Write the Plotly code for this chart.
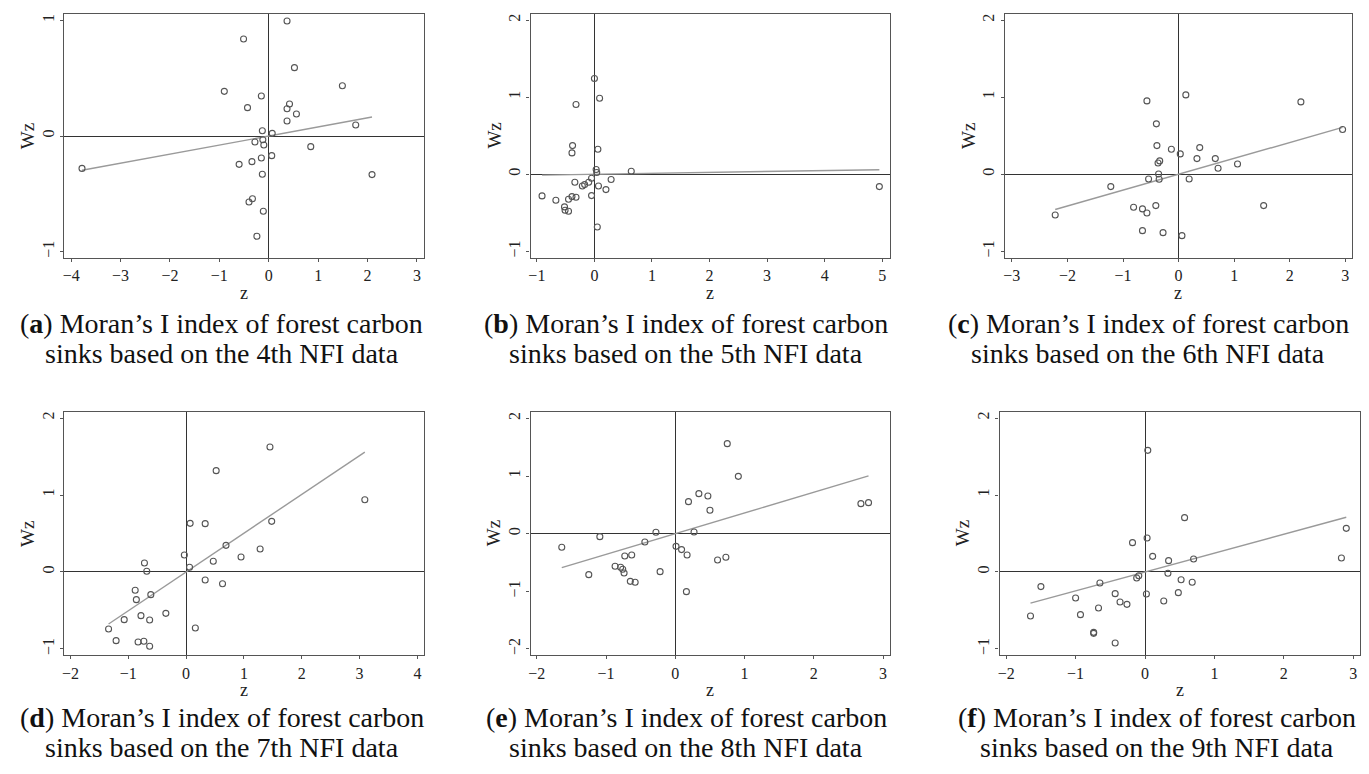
import plotly.graph_objects as go

# ---------------- data ----------------
z_a = [0.37, -0.51, 0.52, -0.90, 1.49, -0.15, -0.43, 0.42, 0.37, 0.56, 0.37, 1.76, -0.13, 0.07,
       -0.12, -0.28, -0.10, 0.85, 0.06, -0.15, -0.60, -0.34, -3.78, -0.13, 2.09, -0.33, -0.40, -0.11, -0.24]
wz_a = [0.994, 0.839, 0.591, 0.386, 0.435, 0.346, 0.245, 0.277, 0.236, 0.190, 0.130, 0.095, 0.046, 0.023,
        -0.032, -0.052, -0.078, -0.092, -0.170, -0.190, -0.245, -0.222, -0.280, -0.331, -0.334, -0.542, -0.571, -0.651, -0.867]

z_b = [0.00, 0.09, -0.32, -0.38, -0.39, 0.06, 0.03, 0.04, 0.64, 0.29, -0.05, -0.34, -0.10, -0.17,
       -0.21, 0.07, 0.20, -0.91, -0.05, -0.67, -0.39, -0.32, -0.45, -0.52, -0.51, -0.45, 0.05, 4.95]
wz_b = [1.242, 0.987, 0.905, 0.372, 0.277, 0.325, 0.061, 0.022, 0.039, -0.069, -0.052, -0.104, -0.104, -0.134,
        -0.152, -0.152, -0.199, -0.281, -0.277, -0.338, -0.290, -0.299, -0.325, -0.424, -0.468, -0.481, -0.684, -0.160]

z_c = [0.13, -0.57, 2.20, -0.40, 2.95, -0.39, -0.13, 0.38, 0.03, 0.33, 0.66, -0.34, -0.37, 1.06, 0.71,
       -0.36, -0.54, -0.35, 0.19, -1.22, -2.22, -0.81, -0.65, -0.57, -0.41, 1.53, -0.65, -0.28, 0.06]
wz_c = [1.030, 0.952, 0.939, 0.654, 0.580, 0.372, 0.325, 0.346, 0.264, 0.203, 0.203, 0.173, 0.147, 0.134, 0.078,
        0.004, -0.061, -0.065, -0.061, -0.160, -0.528, -0.429, -0.450, -0.502, -0.407, -0.407, -0.732, -0.758, -0.797]

z_d = [1.45, 0.52, 3.09, 1.48, 0.07, 0.33, 0.69, 1.28, -0.03, 0.95, 0.47, -0.72, 0.06, -0.68, 0.33,
       0.63, -0.88, -0.86, -0.61, -0.35, -0.78, -1.07, -0.63, 0.16, -1.34, -1.21, -0.83, -0.73, -0.63]
wz_d = [1.623, 1.316, 0.939, 0.658, 0.632, 0.628, 0.346, 0.299, 0.221, 0.195, 0.139, 0.117, 0.061, 0.009, -0.104,
        -0.152, -0.238, -0.359, -0.294, -0.537, -0.567, -0.619, -0.623, -0.727, -0.740, -0.892, -0.909, -0.900, -0.965]

z_e = [0.75, 0.91, 0.34, 0.47, 0.19, 2.68, 2.79, 0.50, -0.28, 0.27, -1.09, -0.44, -1.64, 0.01, 0.09,
       0.17, -0.63, -0.73, 0.73, 0.61, -0.87, -0.79, -0.76, -0.74, -0.22, -1.25, -0.65, -0.58, 0.16]
wz_e = [1.561, 0.994, 0.694, 0.653, 0.555, 0.520, 0.538, 0.405, 0.023, 0.029, -0.052, -0.145, -0.237, -0.220, -0.277,
        -0.370, -0.370, -0.387, -0.410, -0.457, -0.566, -0.584, -0.618, -0.682, -0.659, -0.711, -0.827, -0.844, -1.006]

z_f = [0.04, 0.57, 2.90, 0.03, -0.18, 0.11, 0.34, 0.70, 2.83, 0.33, -0.09, -0.12, 0.52, 0.68, -0.65,
       -1.50, 0.48, -0.43, 0.02, -1.00, 0.27, -0.36, -0.26, -0.67, -0.93, -1.65, -0.74, -0.74, -0.43]
wz_f = [1.580, 0.706, 0.567, 0.442, 0.381, 0.203, 0.147, 0.169, 0.182, -0.017, -0.048, -0.078, -0.100, -0.134, -0.143,
        -0.190, -0.268, -0.281, -0.286, -0.338, -0.377, -0.390, -0.420, -0.468, -0.554, -0.571, -0.784, -0.797, -0.922]

# fitted slopes (Moran's I)
slopes = [0.0785, 0.012, 0.206, 0.504, 0.359, 0.245]

panel_letters = ["a", "b", "c", "d", "e", "f"]
nfi_rounds = ["4th", "5th", "6th", "7th", "8th", "9th"]

x_ticks = [[-4, -3, -2, -1, 0, 1, 2, 3], [-1, 0, 1, 2, 3, 4, 5], [-3, -2, -1, 0, 1, 2, 3],
           [-2, -1, 0, 1, 2, 3, 4], [-2, -1, 0, 1, 2, 3], [-2, -1, 0, 1, 2, 3]]
y_ticks = [[-1, 0, 1], [-1, 0, 1, 2], [-1, 0, 1, 2], [-1, 0, 1, 2], [-2, -1, 0, 1, 2], [-1, 0, 1, 2]]

x_ranges = [[-4.14, 3.15], [-1.11, 5.13], [-3.126, 3.12], [-2.107, 4.12], [-2.091, 3.096], [-2.096, 3.098]]
y_ranges = [[-1.055, 1.055], [-1.087, 2.08], [-1.087, 2.08], [-1.082, 2.078], [-2.11, 2.11], [-1.082, 2.078]]

zs = [z_a, z_b, z_c, z_d, z_e, z_f]
wzs = [wz_a, wz_b, wz_c, wz_d, wz_e, wz_f]

# ---------------- layout geometry (pixels of 1369x774 page) ----------------
W, H = 1369, 774
frames_px = [  # left, right, top, bottom
    (54.3, 415.0, 6.0, 250.0), (521.3, 881.0, 6.0, 250.0), (996.3, 1344.0, 6.0, 250.0),
    (54.3, 415.0, 404.0, 647.3), (521.3, 881.0, 404.0, 647.3), (991.0, 1352.0, 404.0, 647.3),
]
caption_cx = [212, 677, 1140, 212, 677, 1149]
caption_y = [(315, 345), (315, 345), (315, 345), (709, 739), (709, 739), (709, 739)]

SERIF = "Liberation Serif"

fig = go.Figure()
annotations = []

for i in range(6):
    ax = "" if i == 0 else str(i + 1)
    xa, ya = "x" + ax, "y" + ax
    z, wz, s = zs[i], wzs[i], slopes[i]
    zmin, zmax = min(z), max(z)

    fig.add_trace(go.Scatter(
        x=[zmin, zmax], y=[s * zmin, s * zmax], mode="lines",
        line=dict(color="#9a9a9a", width=1.4), xaxis=xa, yaxis=ya,
        showlegend=False, hoverinfo="skip"))
    fig.add_trace(go.Scatter(
        x=z, y=wz, mode="markers",
        marker=dict(symbol="circle-open", size=6, color="#555555", line=dict(width=1.1)),
        xaxis=xa, yaxis=ya, showlegend=False))

    l, r, t, b = frames_px[i]
    xdom = [l / W, r / W]
    ydom = [1 - b / H, 1 - t / H]
    common = dict(
        showline=True, linecolor="#555555", linewidth=1.3, mirror=True,
        showgrid=False, zeroline=True, zerolinecolor="#333333", zerolinewidth=1.3,
        ticks="outside", ticklen=3, tickwidth=1, tickcolor="#555555",
        tickfont=dict(family=SERIF, size=16, color="#222222"),
    )
    fig.layout["xaxis" + ax] = dict(
        domain=xdom, range=x_ranges[i], tickvals=x_ticks[i], anchor=ya, **common)
    fig.layout["yaxis" + ax] = dict(
        domain=ydom, range=y_ranges[i], tickvals=y_ticks[i], anchor=xa, tickangle=-90, **common)

    # axis titles
    annotations.append(dict(
        text="Wz", xref="paper", yref="paper", x=(l - 37) / W, y=1 - ((t + b) / 2) / H,
        textangle=-90, showarrow=False, xanchor="center", yanchor="middle",
        font=dict(family=SERIF, size=19, color="#222222")))
    annotations.append(dict(
        text="z", xref="paper", yref="paper", x=((l + r) / 2) / W, y=1 - (b + 35) / H,
        showarrow=False, xanchor="center", yanchor="middle",
        font=dict(family=SERIF, size=18, color="#222222")))

    # captions
    y1, y2 = caption_y[i]
    annotations.append(dict(
        text=f"(<b>{panel_letters[i]}</b>) Moran\u2019s I index of forest carbon",
        xref="paper", yref="paper", x=caption_cx[i] / W, y=1 - y1 / H,
        showarrow=False, xanchor="center", yanchor="middle",
        font=dict(family=SERIF, size=28, color="#111111")))
    annotations.append(dict(
        text=f"sinks based on the {nfi_rounds[i]} NFI data",
        xref="paper", yref="paper", x=caption_cx[i] / W, y=1 - y2 / H,
        showarrow=False, xanchor="center", yanchor="middle",
        font=dict(family=SERIF, size=28, color="#111111")))

fig.update_layout(
    width=W, height=H, margin=dict(l=0, r=0, t=0, b=0),
    plot_bgcolor="white", paper_bgcolor="white",
    annotations=annotations,
)

fig.write_html("out.html")
